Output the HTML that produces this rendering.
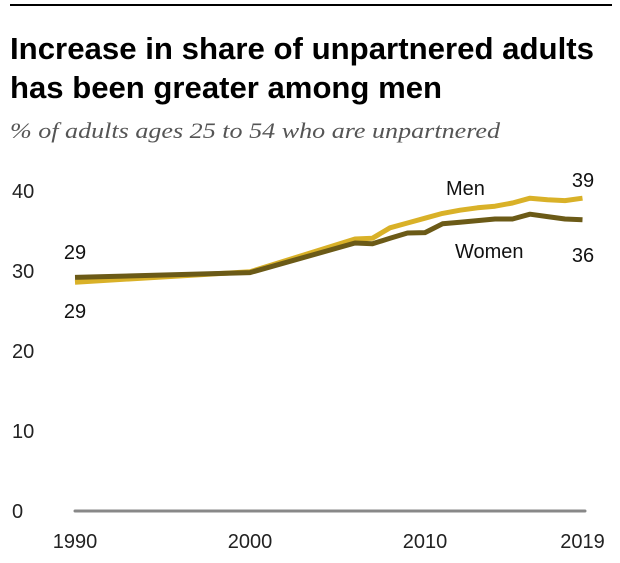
<!DOCTYPE html>
<html><head><meta charset="utf-8"><style>
body{margin:0;background:#fff;width:620px;height:558px;overflow:hidden;font-family:"Liberation Sans",sans-serif}
</style></head><body>
<svg width="620" height="558" id="c">
<line x1="10" y1="5" x2="612" y2="5" stroke="#000" stroke-width="2"/>
<text x="10" y="59" font-size="31" font-weight="bold" textLength="584" lengthAdjust="spacingAndGlyphs">Increase in share of unpartnered adults</text>
<text x="10" y="98" font-size="31" font-weight="bold" textLength="432" lengthAdjust="spacingAndGlyphs">has been greater among men</text>
<text x="10" y="138" font-size="22" font-style="italic" fill="#555" font-family="Liberation Serif,serif" textLength="490" lengthAdjust="spacingAndGlyphs">% of adults ages 25 to 54 who are unpartnered</text>
<g id="axes"></g><g id="lines"></g>
</svg>
<script>
const years=[1990,2000,2006,2007,2008,2009,2010,2011,2012,2013,2014,2015,2016,2017,2018,2019];
const men=[28.6,29.9,34.0,34.1,35.4,36.0,36.6,37.2,37.6,37.9,38.1,38.5,39.1,38.9,38.8,39.1];
const women=[29.2,29.8,33.5,33.4,34.1,34.75,34.8,35.9,36.1,36.3,36.5,36.5,37.1,36.8,36.5,36.4];
const yTicks=[0,10,20,30,40];
const xTicks=[1990,2000,2010,2019];
const X=y=>75+(y-1990)*17.5;
const Y=v=>511-v*8;
const ns="http://www.w3.org/2000/svg";
const ax=document.getElementById('axes'),ln=document.getElementById('lines');
function mk(tag,attrs,parent,txt){const e=document.createElementNS(ns,tag);for(const k in attrs)e.setAttribute(k,attrs[k]);if(txt!==undefined)e.textContent=txt;parent.appendChild(e);return e;}
const base=mk('line',{x1:75,x2:585,y1:Y(0),y2:Y(0),stroke:'#888','stroke-width':3,'stroke-linecap':'round'},ax);


yTicks.forEach(t=>{const e=mk('text',{x:12,y:Y(t)+7,'font-size':20,fill:'#222'},ax,String(t));

});
xTicks.forEach(t=>{const e=mk('text',{x:X(t),y:548,'font-size':20,fill:'#222','text-anchor':'middle'},ax,String(t));

});
function path(arr){return arr.map((v,i)=>(i?'L':'M')+X(years[i])+','+Y(v)).join('');}
const pm=mk('path',{d:path(men),fill:'none',stroke:'#d9b128','stroke-width':5,'stroke-linejoin':'round'},ln);


const pw=mk('path',{d:path(women),fill:'none',stroke:'#6b5a17','stroke-width':5,'stroke-linejoin':'round'},ln);


const labels=[['Men',446,195,'men-label'],['Women',455,258,'women-label'],['39',583,187,'men-end-value'],['36',583,262,'women-end-value'],['29',75,259,'women-start-value'],['29',75,318,'men-start-value']];
labels.forEach(l=>{const e=mk('text',{x:l[1],y:l[2],'font-size':20,fill:'#111','text-anchor':l[0].length<3?'middle':'start'},ln,l[0]);

});
</script>
</body></html>
